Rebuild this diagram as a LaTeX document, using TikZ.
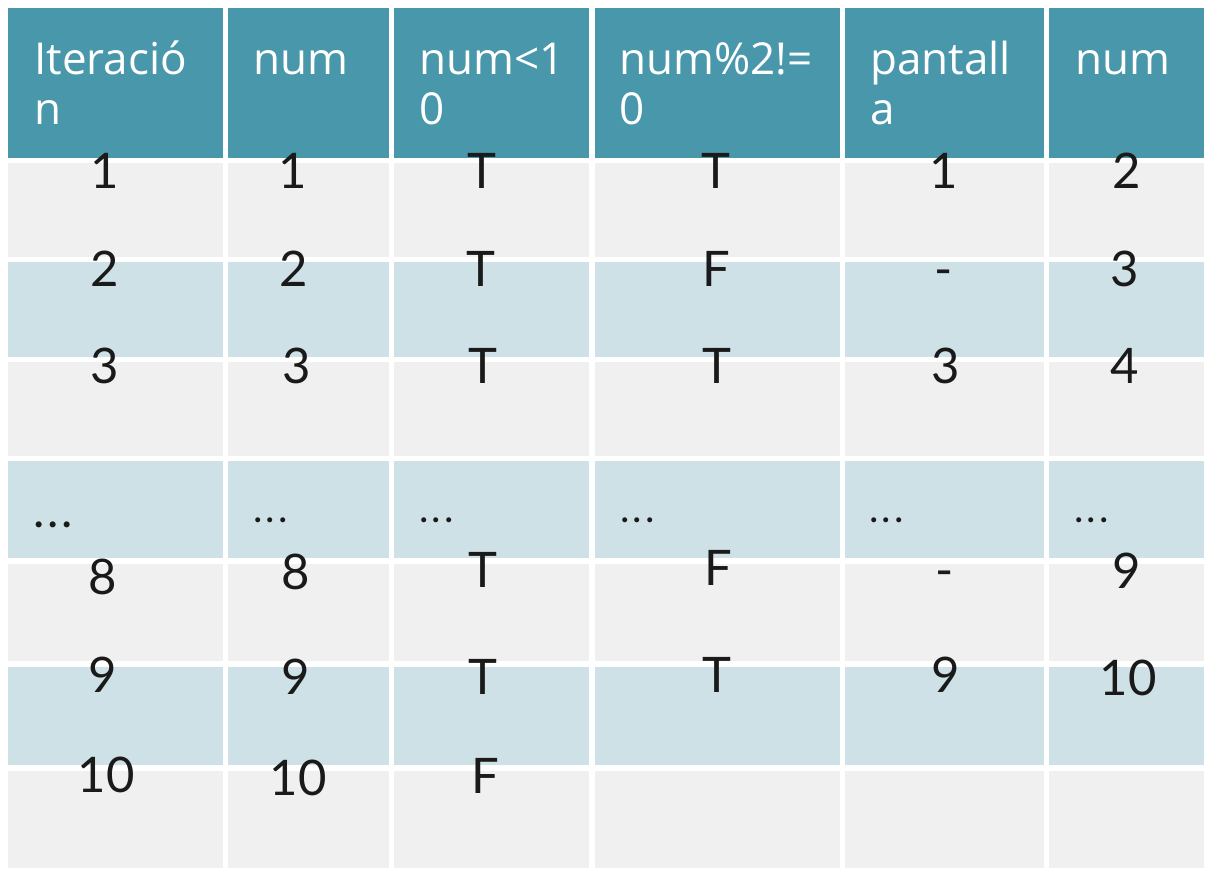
\documentclass[tikz,border=0pt]{standalone}
\usepackage{fontspec}
\setmainfont{Lato}
\newfontfamily\headfont{Open Sans}
\definecolor{headteal}{HTML}{4897AA}
\definecolor{rowgray}{HTML}{F0F0F0}
\definecolor{rowblue}{HTML}{CEE1E6}
\definecolor{valink}{HTML}{1A1A1A}
\newcommand{\skipdots}{.\kern3pt.\kern3pt.}
\tikzset{
  hd/.style={anchor=base west, inner sep=0pt, align=left, text=white,
    font=\headfont\fontsize{44}{50}\selectfont},
  val/.style={anchor=base, inner sep=0pt, text=valink,
    font=\fontsize{49}{49}\selectfont},
  gap/.style={anchor=base west, inner sep=0pt, text=valink,
    font=\fontsize{40}{40}\selectfont},
}
\begin{document}
\begin{tikzpicture}[x=1pt,y=-1pt]
        \fill[white] (0,0) rectangle (1216,876);
        \useasboundingbox (0,0) rectangle (1216,876);
        \foreach \xa/\xb in {8/223,228/389,394/589,595/840,845/1044,1049/1204}{
          \fill[headteal] (\xa,8) rectangle (\xb,158);
          \foreach \ya/\yb/\c in {163/257/rowgray,262/357/rowblue,362/456/rowgray,461/558/rowblue,564/661/rowgray,667/765/rowblue,771/868/rowgray}
            \fill[\c] (\xa,\ya) rectangle (\xb,\yb);
        }
        % header (base of a two-line node is its last line)
        \node[hd] (h1) at (34,124) {Iteració\\n};
        \node[hd] (h2) at (253,74) {num};
        \node[hd] (h3) at (419,124) {num<1\\0};
        \node[hd] (h4) at (619,124) {num\%2!=\\0};
        \node[hd] (h5) at (870,124) {pantall\\a};
        \node[hd] (h6) at (1075,74) {num};
        % rows
        \node[val] (r1c1) at (105,188) {1};
        \node[val] (r1c2) at (293,188) {1};
        \node[val] (r1c3) at (482,188) {T};
        \node[val] (r1c4) at (716,188) {T};
        \node[val] (r1c5) at (944,188) {1};
        \node[val] (r1c6) at (1127,188) {2};
        \node[val] (r2c1) at (105,286) {2};
        \node[val] (r2c2) at (294,286) {2};
        \node[val] (r2c3) at (481,286) {T};
        \node[val] (r2c4) at (716,286) {F};
        \node[val] (r2c5) at (944,286) {-};
        \node[val] (r2c6) at (1125,286) {3};
        \node[val] (r3c1) at (105,383) {3};
        \node[val] (r3c2) at (297,383) {3};
        \node[val] (r3c3) at (483,383) {T};
        \node[val] (r3c4) at (717,383) {T};
        \node[val] (r3c5) at (946,383) {3};
        \node[val] (r3c6) at (1125,383) {4};
        \node[gap, font=\fontsize{48}{48}\selectfont] (r4c1) at (33,527) {\skipdots};
        \node[gap] (r4c2) at (253,522) {\skipdots};
        \node[gap] (r4c3) at (419,522) {\skipdots};
        \node[gap] (r4c4) at (620,522) {\skipdots};
        \node[gap] (r4c5) at (869,522) {\skipdots};
        \node[gap] (r4c6) at (1074,522) {\skipdots};
        \node[val] (r5c1) at (103,594) {8};
        \node[val] (r5c2) at (296,589) {8};
        \node[val] (r5c3) at (483,587) {T};
        \node[val] (r5c4) at (718,585) {F};
        \node[val] (r5c5) at (945,587) {-};
        \node[val] (r5c6) at (1127,588) {9};
        \node[val] (r6c1) at (103,692) {9};
        \node[val] (r6c2) at (296,694) {9};
        \node[val] (r6c3) at (483,694) {T};
        \node[val] (r6c4) at (717,692) {T};
        \node[val] (r6c5) at (946,692) {9};
        \node[val] (r6c6) at (1128,695) {10};
        \node[val] (r7c1) at (106,792) {10};
        \node[val] (r7c2) at (298,795) {10};
        \node[val] (r7c3) at (485,793) {F};
\end{tikzpicture}
\end{document}
